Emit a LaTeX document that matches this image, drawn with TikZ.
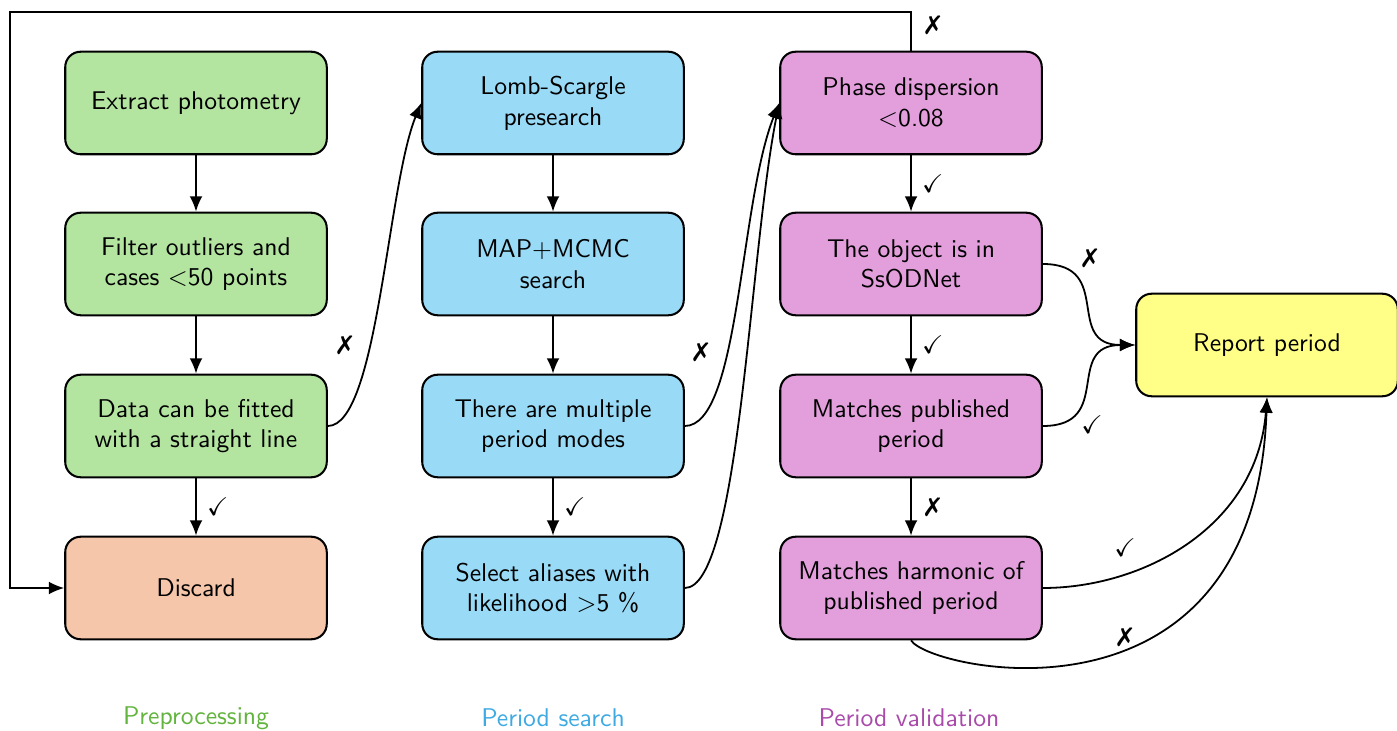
\documentclass[tikz,border=0pt]{standalone}
\usepackage{fontspec}
\usepackage{amssymb}
\usetikzlibrary{arrows.meta,calc}
\newfontfamily\dejavu{DejaVu Sans}
\definecolor{fgreen}{HTML}{B3E5A1}
\definecolor{fblue}{HTML}{99DBF6}
\definecolor{fpink}{HTML}{E39FDC}
\definecolor{forange}{HTML}{F5C6AA}
\definecolor{fyellow}{HTML}{FFFF88}
\definecolor{tgreen}{HTML}{62B43E}
\definecolor{tblue}{HTML}{3FAAE2}
\definecolor{tpurple}{HTML}{A84BAA}
\newcommand{\xm}{{\dejavu ✗}}
\newcommand{\cm}{\checkmark}
\begin{document}
\begin{tikzpicture}[x=0.39pt,y=-0.39pt,font=\sffamily,
  box/.style={draw,line width=0.8pt,rounded corners=6pt,minimum width=102pt,minimum height=40pt,align=center,inner sep=2pt},
  arr/.style={line width=0.7pt,-{Latex[length=6pt,width=5pt]}},
  mk/.style={inner sep=1pt,font=\sffamily}]
\useasboundingbox (0,0) rectangle (1397,731);
% column 1
\node[box,fill=fgreen] (g1) at (196,103) {Extract photometry};
\node[box,fill=fgreen] (g2) at (196,264) {Filter outliers and\\cases <50 points};
\node[box,fill=fgreen] (g3) at (196,426) {Data can be fitted\\with a straight line};
\node[box,fill=forange] (g4) at (196,588) {Discard};
% column 2
\node[box,fill=fblue] (b1) at (553,103) {Lomb-Scargle\\presearch};
\node[box,fill=fblue] (b2) at (553,264) {MAP+MCMC\\search};
\node[box,fill=fblue] (b3) at (553,426) {There are multiple\\period modes};
\node[box,fill=fblue] (b4) at (553,588) {Select aliases with\\likelihood >5 \%};
% column 3
\node[box,fill=fpink] (p1) at (911,103) {Phase dispersion\\<0.08};
\node[box,fill=fpink] (p2) at (911,264) {The object is in\\SsODNet};
\node[box,fill=fpink] (p3) at (911,426) {Matches published\\period};
\node[box,fill=fpink] (p4) at (911,588) {Matches harmonic of\\published period};
% report
\node[box,fill=fyellow] (r) at (1267,345) {Report period};
% column labels
\node[text=tgreen] (lg) at (196,718) {Preprocessing};
\node[text=tblue] (lb) at (553,718) {Period search};
\node[text=tpurple] (lp) at (909,718) {Period validation};
% vertical arrows
\draw[arr] (g1) -- (g2);
\draw[arr] (g2) -- (g3);
\draw[arr] (g3) -- node[mk,right=3pt]{\cm} (g4);
\draw[arr] (b1) -- (b2);
\draw[arr] (b2) -- (b3);
\draw[arr] (b3) -- node[mk,right=3pt]{\cm} (b4);
\draw[arr] (p1) -- node[mk,right=3pt]{\cm} (p2);
\draw[arr] (p2) -- node[mk,right=3pt]{\cm} (p3);
\draw[arr] (p3) -- node[mk,right=3pt]{\xm} (p4);
% curves between columns
\draw[arr] (g3.east) .. controls +(50,0) and +(-34,83) .. (b1.west);
\node[mk] (x3) at (345,345) {\xm};
\draw[arr] (b3.east) .. controls +(55,0) and +(-40,100) .. (p1.west);
\node[mk] (x4) at (701,352) {\xm};
\draw[arr] (b4.east) .. controls +(55,0) and +(-30,150) .. (p1.west);
% loop back to discard
\coordinate (tl) at (10,12);
\draw[arr] (p1.north) |- (tl) |- (g4.west);
\node[mk] (x5) at (933,25) {\xm};
% to report
\draw[arr] (p2.east) to[out=0,in=180,looseness=1.5] (r.west);
\node[mk] (x1) at (1090,258) {\xm};
\draw[arr] (p3.east) to[out=0,in=180,looseness=1.5] (r.west);
\node[mk] (c1) at (1092,425) {\cm};
\draw[arr] (p4.east) .. controls +(100,0) and +(-10,130) .. (r.south);
\node[mk] (c2) at (1125,548) {\cm};
\draw[arr] (p4.south) .. controls +(18,30) and +(-12,344) .. (r.south);
\node[mk] (x2) at (1125,637) {\xm};
\end{tikzpicture}
\end{document}
